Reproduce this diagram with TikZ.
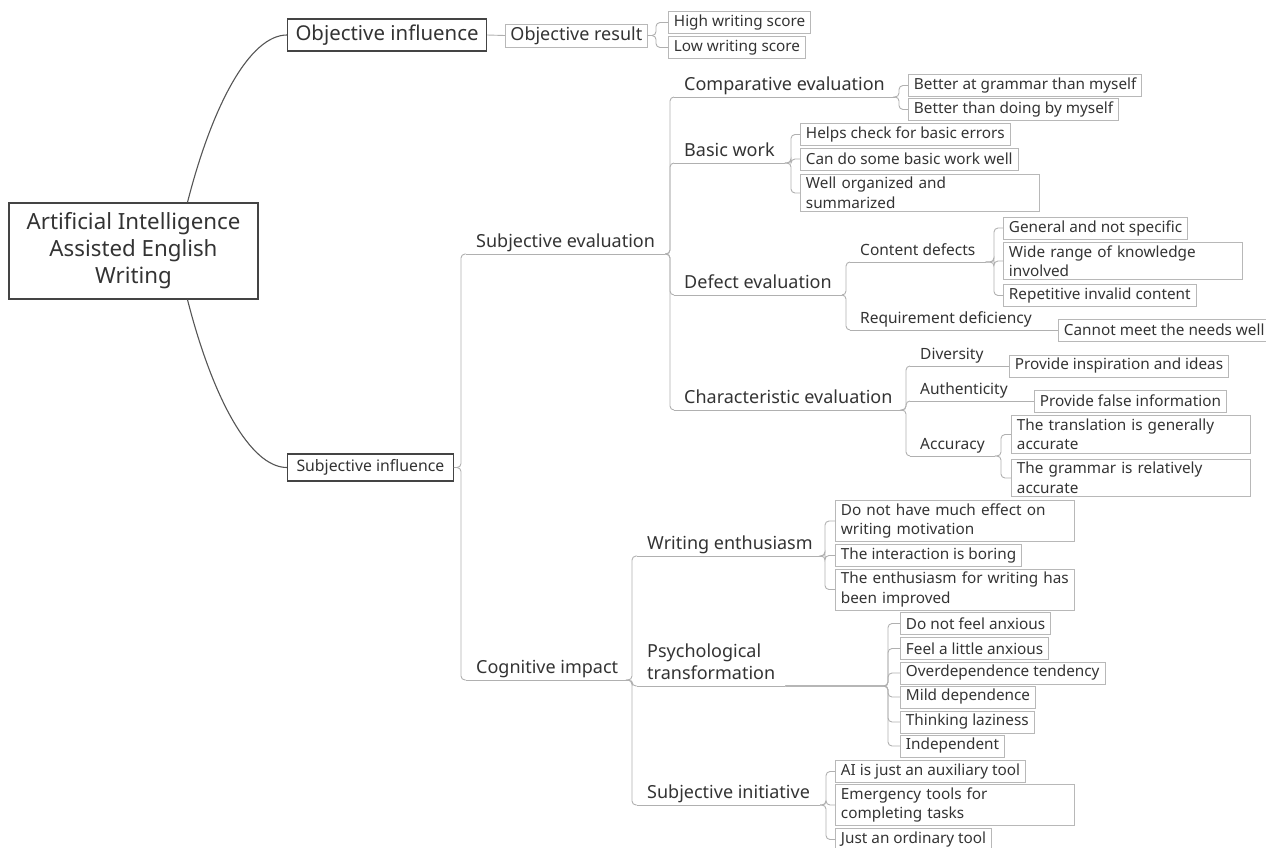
\documentclass[tikz,border=0pt]{standalone}
\usepackage{fontspec}
\setmainfont{Noto Sans}

\definecolor{inkgray}{HTML}{333333}
\definecolor{boxgray}{HTML}{444444}
\definecolor{leafgray}{HTML}{B8B8B8}
\definecolor{linkgray}{HTML}{B0B0B0}
\definecolor{rootlink}{HTML}{555555}

\tikzset{
  rootbox/.style={draw=boxgray, line width=1.2pt, text=inkgray, align=center,
    font=\fontsize{22.3}{27}\selectfont, minimum width=249pt, minimum height=96pt},
  mainbox/.style={draw=boxgray, line width=1.1pt, text=inkgray, inner ysep=0pt, anchor=west},
  leaf/.style={draw=leafgray, line width=0.9pt, text=inkgray,
    font=\fontsize{15.3}{19.5}\selectfont, inner xsep=5.5pt, inner ysep=2pt,
    minimum height=22pt, anchor=west},
  wrapleaf/.style={leaf, text width=228pt, align=left, inner ysep=3pt},
  link/.style={draw=linkgray, line width=0.9pt, rounded corners=4pt},
  topic/.style={text=inkgray, font=\fontsize{18}{22}\selectfont, inner xsep=10pt,
    inner ysep=1.5pt, text depth=4.5pt, anchor=south west,
    append after command={(\tikzlastnode.south west) edge[link] (\tikzlastnode.south east)}},
  subtopic/.style={topic, font=\fontsize{15.5}{20}\selectfont},
}

% parent anchor, child anchor, gap between fork and child
\newcommand{\fork}[3]{\draw[link] (#1) -- ([xshift=-#3pt]#2 |- #1) |- (#2);}

\begin{document}
\begin{tikzpicture}[x=1pt, y=-1pt]
\useasboundingbox (0,0) rectangle (1266,847);

% centre
\node[rootbox] (root) at (133.5,251) {Artificial Intelligence\\Assisted English\\Writing};

% objective side
\node[mainbox, font=\fontsize{20.4}{24}\selectfont, inner xsep=8pt, minimum height=32pt] (oinf) at (287,35) {Objective influence};
\node[leaf, font=\fontsize{18}{22}\selectfont, inner xsep=5pt, minimum height=23pt] (ores) at (505,35.5) {Objective result};
\node[leaf] (hi) at (668,22.5) {High writing score};
\node[leaf] (lo) at (668,47.5) {Low writing score};

% subjective side
\node[mainbox, font=\fontsize{15.8}{20}\selectfont, inner xsep=9pt, minimum height=27pt] (sinf) at (287,467.5) {Subjective influence};
\node[topic] (sev) at (466,254) {Subjective evaluation};
\node[topic] (cog) at (466,680) {Cognitive impact};

\node[topic] (cmp) at (674,97) {Comparative evaluation};
\node[topic] (bas) at (674,163) {Basic work};
\node[topic] (dfe) at (674,295) {Defect evaluation};
\node[topic] (chr) at (674,410) {Characteristic evaluation};

\node[leaf] (cg1) at (908,85.5) {Better at grammar than myself};
\node[leaf] (cg2) at (908,109.5) {Better than doing by myself};

\node[leaf] (bw1) at (800,134.5) {Helps check for basic errors};
\node[leaf] (bw2) at (800,159) {Can do some basic work well};
\node[wrapleaf] (bw3) at (800,193) {Well organized and\\summarized};

\node[subtopic] (cnt) at (850,262) {Content defects};
\node[subtopic] (req) at (850,330) {Requirement deficiency};
\node[leaf] (cd1) at (1003,228) {General and not specific};
\node[wrapleaf] (cd2) at (1003,261) {Wide range of knowledge\\involved};
\node[leaf] (cd3) at (1003,295.5) {Repetitive invalid content};
\node[leaf] (rd1) at (1058,330) {Cannot meet the needs well};

\node[subtopic] (div) at (910,366) {Diversity};
\node[subtopic] (aut) at (910,401) {Authenticity};
\node[subtopic] (acc) at (910,456) {Accuracy};
\node[leaf] (dv1) at (1009,366) {Provide inspiration and ideas};
\node[leaf] (au1) at (1034,401) {Provide false information};
\node[wrapleaf] (ac1) at (1011,434.5) {The translation is generally\\accurate};
\node[wrapleaf] (ac2) at (1011,478) {The grammar is relatively\\accurate};

\node[topic] (wen) at (637,556) {Writing enthusiasm};
\node[topic, align=left] (psy) at (637,686) {Psychological\\transformation};
\node[topic] (sin) at (637,805) {Subjective initiative};

\node[wrapleaf] (we1) at (835,521) {Do not have much effect on\\writing motivation};
\node[leaf] (we2) at (835,555.5) {The interaction is boring};
\node[wrapleaf] (we3) at (835,589.5) {The enthusiasm for writing has\\been improved};

\node[leaf] (pt1) at (900,623.5) {Do not feel anxious};
\node[leaf] (pt2) at (900,648.5) {Feel a little anxious};
\node[leaf] (pt3) at (900,673) {Overdependence tendency};
\node[leaf] (pt4) at (900,697) {Mild dependence};
\node[leaf] (pt5) at (900,722) {Thinking laziness};
\node[leaf] (pt6) at (900,746) {Independent};

\node[leaf] (si1) at (835,771.5) {AI is just an auxiliary tool};
\node[wrapleaf] (si2) at (835,805) {Emergency tools for\\completing tasks};
\node[leaf] (si3) at (835,839.5) {Just an ordinary tool};

% links
\draw[rootlink, line width=1.1pt] (root.42) .. controls +(25,-98) and +(-37,0) .. (oinf.west);
\draw[rootlink, line width=1.1pt] (root.-42) .. controls +(25,98) and +(-37,0) .. (sinf.west);
\draw[link] (oinf.east) -- (ores.west);
\foreach \c in {hi,lo} {\fork{ores.east}{\c.west}{12}}
\foreach \c in {sev,cog} {\fork{sinf.east}{\c.south west}{5}}
\foreach \c in {cmp,bas,dfe,chr} {\fork{sev.south east}{\c.south west}{4}}
\foreach \c in {cg1,cg2} {\fork{cmp.south east}{\c.west}{9}}
\foreach \c in {bw1,bw2,bw3} {\fork{bas.south east}{\c.west}{9}}
\foreach \c in {cnt,req} {\fork{dfe.south east}{\c.south west}{4}}
\foreach \c in {cd1,cd2,cd3} {\fork{cnt.south east}{\c.west}{9}}
\draw[link] (req.south east) -- (rd1.west);
\foreach \c in {div,aut,acc} {\fork{chr.south east}{\c.south west}{4}}
\draw[link] (div.south east) -- (dv1.west);
\draw[link] (aut.south east) -- (au1.west);
\foreach \c in {ac1,ac2} {\fork{acc.south east}{\c.west}{10}}
\foreach \c in {wen,psy,sin} {\fork{cog.south east}{\c.south west}{5}}
\foreach \c in {we1,we2,we3} {\fork{wen.south east}{\c.west}{10}}
\foreach \c in {pt1,pt2,pt3,pt4,pt5,pt6} {\fork{psy.south east}{\c.west}{12}}
\foreach \c in {si1,si2,si3} {\fork{sin.south east}{\c.west}{9}}
\end{tikzpicture}
\end{document}
